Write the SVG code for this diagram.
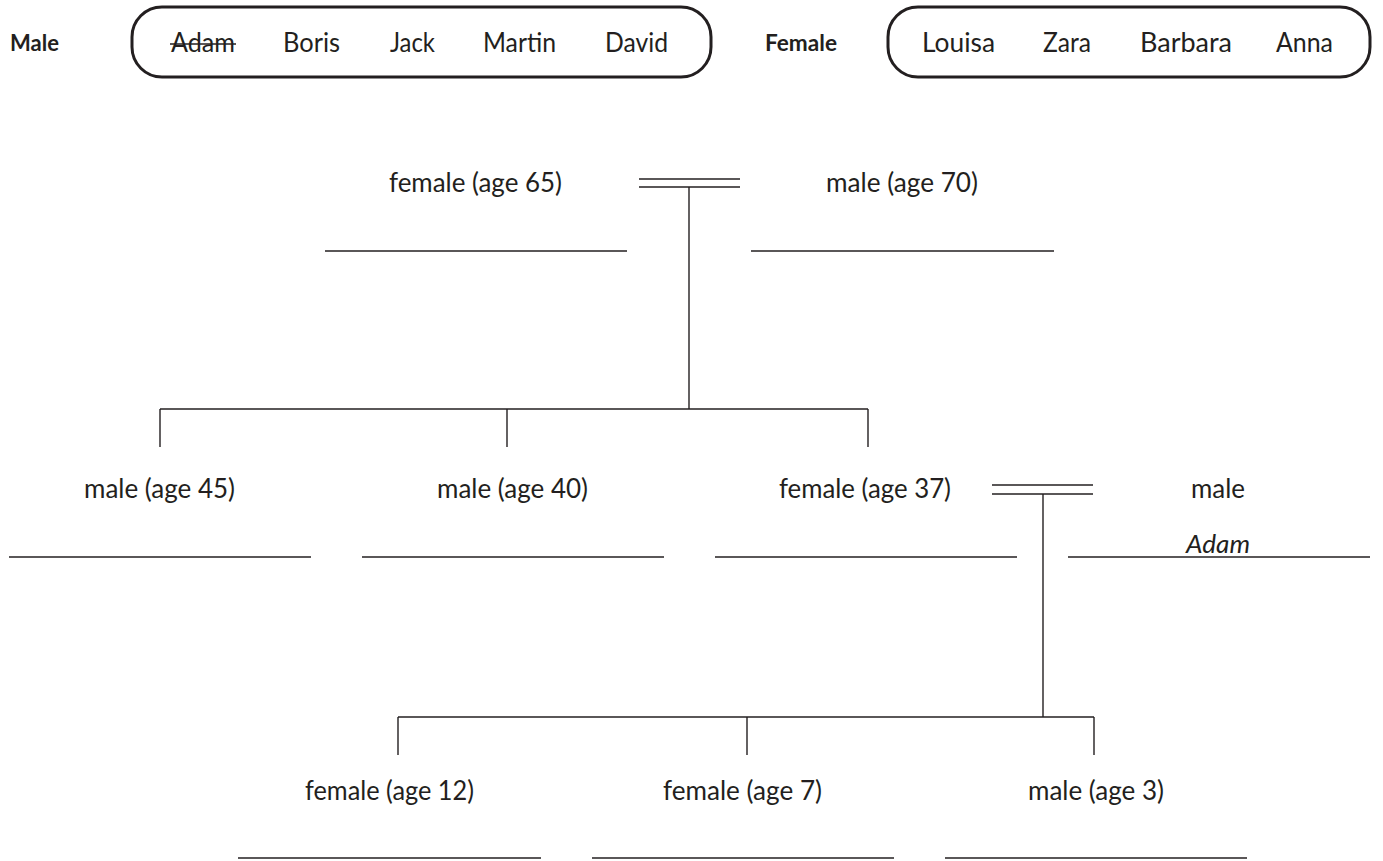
<svg xmlns="http://www.w3.org/2000/svg" width="1383" height="861" viewBox="0 0 1383 861">
<style>
text{font-family:"Lato","Liberation Sans",sans-serif;font-size:26px;fill:#231f20}
.b{font-weight:bold;font-size:22px}
.i{font-style:italic}
.box{fill:none;stroke:#231f20;stroke-width:3}
.ln{stroke:#231f20;stroke-width:1.4;fill:none}
</style>
<rect width="1383" height="861" fill="#fff"/>
<g id="legend-male">
<text class="b" x="10" y="51" textLength="49" lengthAdjust="spacingAndGlyphs">Male</text>
<rect class="box" x="132" y="7" width="579" height="70" rx="30"/>
<text x="171" y="52" textLength="64" lengthAdjust="spacingAndGlyphs">Adam</text>
<line class="ln" x1="170" y1="44" x2="236" y2="44" stroke-width="1.6"/>
<text x="283" y="52" textLength="57" lengthAdjust="spacingAndGlyphs">Boris</text>
<text x="390" y="52" textLength="45" lengthAdjust="spacingAndGlyphs">Jack</text>
<text x="483" y="52" textLength="73" lengthAdjust="spacingAndGlyphs">Martin</text>
<text x="605" y="52" textLength="63" lengthAdjust="spacingAndGlyphs">David</text>
</g>
<g id="legend-female">
<text class="b" x="765" y="51" textLength="72" lengthAdjust="spacingAndGlyphs">Female</text>
<rect class="box" x="888" y="7" width="482" height="70" rx="30"/>
<text x="922" y="52" textLength="73" lengthAdjust="spacingAndGlyphs">Louisa</text>
<text x="1043" y="52" textLength="48" lengthAdjust="spacingAndGlyphs">Zara</text>
<text x="1140" y="52" textLength="92" lengthAdjust="spacingAndGlyphs">Barbara</text>
<text x="1276" y="52" textLength="57" lengthAdjust="spacingAndGlyphs">Anna</text>
</g>
<g id="connectors">
<line class="ln" x1="639" y1="179" x2="740" y2="179"/>
<line class="ln" x1="639" y1="187" x2="740" y2="187"/>
<line class="ln" x1="689" y1="187" x2="689" y2="409"/>
<line class="ln" x1="160" y1="409" x2="868" y2="409"/>
<line class="ln" x1="160" y1="409" x2="160" y2="447"/>
<line class="ln" x1="507" y1="409" x2="507" y2="447"/>
<line class="ln" x1="868" y1="409" x2="868" y2="447"/>
<line class="ln" x1="992" y1="485" x2="1093" y2="485"/>
<line class="ln" x1="992" y1="494" x2="1093" y2="494"/>
<line class="ln" x1="1043" y1="494" x2="1043" y2="717"/>
<line class="ln" x1="398" y1="717" x2="1094" y2="717"/>
<line class="ln" x1="398" y1="717" x2="398" y2="755"/>
<line class="ln" x1="747" y1="717" x2="747" y2="755"/>
<line class="ln" x1="1094" y1="717" x2="1094" y2="755"/>
</g>
<g id="grandmother">
<text x="389" y="192" textLength="173" lengthAdjust="spacingAndGlyphs">female (age 65)</text>
<line class="ln" x1="325" y1="251" x2="627" y2="251"/>
</g>
<g id="grandfather">
<text x="826" y="192" textLength="152" lengthAdjust="spacingAndGlyphs">male (age 70)</text>
<line class="ln" x1="751" y1="251" x2="1054" y2="251"/>
</g>
<g id="son45">
<text x="84" y="498" textLength="151" lengthAdjust="spacingAndGlyphs">male (age 45)</text>
<line class="ln" x1="9" y1="557" x2="311" y2="557"/>
</g>
<g id="son40">
<text x="437" y="498" textLength="151" lengthAdjust="spacingAndGlyphs">male (age 40)</text>
<line class="ln" x1="362" y1="557" x2="664" y2="557"/>
</g>
<g id="daughter37">
<text x="779" y="498" textLength="172" lengthAdjust="spacingAndGlyphs">female (age 37)</text>
<line class="ln" x1="715" y1="557" x2="1017" y2="557"/>
</g>
<g id="husband">
<text x="1191" y="498" textLength="54" lengthAdjust="spacingAndGlyphs">male</text>
<text class="i" x="1186" y="553" textLength="64" lengthAdjust="spacingAndGlyphs">Adam</text>
<line class="ln" x1="1068" y1="557" x2="1370" y2="557"/>
</g>
<g id="child12">
<text x="305" y="800" textLength="169" lengthAdjust="spacingAndGlyphs">female (age 12)</text>
<line class="ln" x1="238" y1="858" x2="541" y2="858"/>
</g>
<g id="child7">
<text x="663" y="800" textLength="159" lengthAdjust="spacingAndGlyphs">female (age 7)</text>
<line class="ln" x1="592" y1="858" x2="894" y2="858"/>
</g>
<g id="child3">
<text x="1028" y="800" textLength="136" lengthAdjust="spacingAndGlyphs">male (age 3)</text>
<line class="ln" x1="945" y1="858" x2="1247" y2="858"/>
</g>
</svg>
